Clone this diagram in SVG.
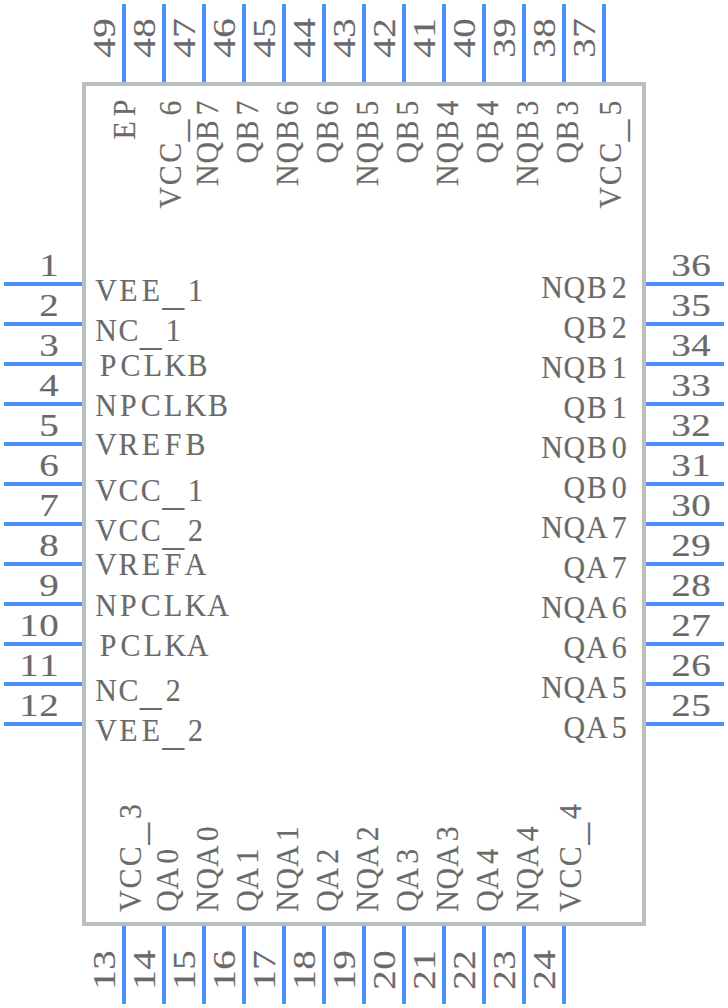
<svg xmlns="http://www.w3.org/2000/svg" width="728" height="1008" viewBox="0 0 728 1008">
<style>
.pin{stroke:#4a90ff;stroke-width:4;fill:none}
text{font-family:"Liberation Serif",serif;font-size:32.5px;fill:#6a6a6a;stroke:#6a6a6a;stroke-width:.15;text-anchor:middle}
.u{font-family:"Liberation Mono",monospace;font-size:40px}
</style>
<rect id="body" x="84" y="84" width="560" height="840" fill="#fff" stroke="#bdbdbd" stroke-width="4"/>
<g id="connectors" class="pin">
<path d="M4 284H82M4 324H82M4 364H82M4 404H82M4 444H82M4 484H82M4 524H82M4 564H82M4 604H82M4 644H82M4 684H82M4 724H82"/>
<path d="M646 284H724M646 324H724M646 364H724M646 404H724M646 444H724M646 484H724M646 524H724M646 564H724M646 604H724M646 644H724M646 684H724M646 724H724"/>
<path d="M124 4V82M164 4V82M204 4V82M244 4V82M284 4V82M324 4V82M364 4V82M404 4V82M444 4V82M484 4V82M524 4V82M564 4V82M604 4V82"/>
<path d="M124 926V1004M164 926V1004M204 926V1004M244 926V1004M284 926V1004M324 926V1004M364 926V1004M404 926V1004M444 926V1004M484 926V1004M524 926V1004M564 926V1004"/>
</g>
<g id="pin-numbers-left">
<text transform="translate(49,276) scale(1.2,1)" x="0">1</text><text transform="translate(49,316) scale(1.2,1)" x="0">2</text><text transform="translate(49,356) scale(1.2,1)" x="0">3</text><text transform="translate(49,396) scale(1.2,1)" x="0">4</text><text transform="translate(49,436) scale(1.2,1)" x="0">5</text><text transform="translate(49,476) scale(1.2,1)" x="0">6</text><text transform="translate(49,516) scale(1.2,1)" x="0">7</text><text transform="translate(49,556) scale(1.2,1)" x="0">8</text><text transform="translate(49,596) scale(1.2,1)" x="0">9</text>
<text transform="translate(29,636) scale(1.2,1)" x="0 16.67">10</text><text transform="translate(29,676) scale(1.2,1)" x="0 16.67">11</text><text transform="translate(29,716) scale(1.2,1)" x="0 16.67">12</text>
</g>
<g id="pin-numbers-right">
<text transform="translate(681,276) scale(1.2,1)" x="0 16.67">36</text><text transform="translate(681,316) scale(1.2,1)" x="0 16.67">35</text><text transform="translate(681,356) scale(1.2,1)" x="0 16.67">34</text><text transform="translate(681,396) scale(1.2,1)" x="0 16.67">33</text><text transform="translate(681,436) scale(1.2,1)" x="0 16.67">32</text><text transform="translate(681,476) scale(1.2,1)" x="0 16.67">31</text><text transform="translate(681,516) scale(1.2,1)" x="0 16.67">30</text><text transform="translate(681,556) scale(1.2,1)" x="0 16.67">29</text><text transform="translate(681,596) scale(1.2,1)" x="0 16.67">28</text><text transform="translate(681,636) scale(1.2,1)" x="0 16.67">27</text><text transform="translate(681,676) scale(1.2,1)" x="0 16.67">26</text><text transform="translate(681,716) scale(1.2,1)" x="0 16.67">25</text>
</g>
<g id="pin-numbers-top">
<text transform="translate(115,48) rotate(-90) scale(1.2,1)" x="0 16.67">49</text><text transform="translate(155,48) rotate(-90) scale(1.2,1)" x="0 16.67">48</text><text transform="translate(195,48) rotate(-90) scale(1.2,1)" x="0 16.67">47</text><text transform="translate(235,48) rotate(-90) scale(1.2,1)" x="0 16.67">46</text><text transform="translate(275,48) rotate(-90) scale(1.2,1)" x="0 16.67">45</text><text transform="translate(315,48) rotate(-90) scale(1.2,1)" x="0 16.67">44</text><text transform="translate(355,48) rotate(-90) scale(1.2,1)" x="0 16.67">43</text><text transform="translate(395,48) rotate(-90) scale(1.2,1)" x="0 16.67">42</text><text transform="translate(435,48) rotate(-90) scale(1.2,1)" x="0 16.67">41</text><text transform="translate(475,48) rotate(-90) scale(1.2,1)" x="0 16.67">40</text><text transform="translate(515,48) rotate(-90) scale(1.2,1)" x="0 16.67">39</text><text transform="translate(555,48) rotate(-90) scale(1.2,1)" x="0 16.67">38</text><text transform="translate(595,48) rotate(-90) scale(1.2,1)" x="0 16.67">37</text>
</g>
<g id="pin-numbers-bottom">
<text transform="translate(115,980) rotate(-90) scale(1.2,1)" x="0 16.67">13</text><text transform="translate(155,980) rotate(-90) scale(1.2,1)" x="0 16.67">14</text><text transform="translate(195,980) rotate(-90) scale(1.2,1)" x="0 16.67">15</text><text transform="translate(235,980) rotate(-90) scale(1.2,1)" x="0 16.67">16</text><text transform="translate(275,980) rotate(-90) scale(1.2,1)" x="0 16.67">17</text><text transform="translate(315,980) rotate(-90) scale(1.2,1)" x="0 16.67">18</text><text transform="translate(355,980) rotate(-90) scale(1.2,1)" x="0 16.67">19</text><text transform="translate(395,980) rotate(-90) scale(1.2,1)" x="0 16.67">20</text><text transform="translate(435,980) rotate(-90) scale(1.2,1)" x="0 16.67">21</text><text transform="translate(475,980) rotate(-90) scale(1.2,1)" x="0 16.67">22</text><text transform="translate(515,980) rotate(-90) scale(1.2,1)" x="0 16.67">23</text><text transform="translate(555,980) rotate(-90) scale(1.2,1)" x="0 16.67">24</text>
</g>
<g id="pin-names-left">
<text transform="translate(106,301) scale(.92,1)" x="0 24.35 48.7 73.04 97.39">VEE<tspan class="u" dy="5">_</tspan><tspan dy="-5">1</tspan></text>
<text transform="translate(106,341) scale(.92,1)" x="0 24.35 48.7 73.04">NC<tspan class="u" dy="5">_</tspan><tspan dy="-5">1</tspan></text>
<text transform="translate(108,376) scale(.92,1)" x="0 24.35 48.7 73.04 97.39">PCLKB</text>
<text transform="translate(106,416) scale(.92,1)" x="0 24.35 48.7 73.04 97.39 121.74">NPCLKB</text>
<text transform="translate(106,455) scale(.92,1)" x="0 24.35 48.7 73.04 97.39">VREFB</text>
<text transform="translate(106,501) scale(.92,1)" x="0 24.35 48.7 73.04 97.39">VCC<tspan class="u" dy="5">_</tspan><tspan dy="-5">1</tspan></text>
<text transform="translate(106,541) scale(.92,1)" x="0 24.35 48.7 73.04 97.39">VCC<tspan class="u" dy="5">_</tspan><tspan dy="-5">2</tspan></text>
<text transform="translate(106,575) scale(.92,1)" x="0 24.35 48.7 73.04 97.39">VREFA</text>
<text transform="translate(106,616) scale(.92,1)" x="0 24.35 48.7 73.04 97.39 121.74">NPCLKA</text>
<text transform="translate(108,656) scale(.92,1)" x="0 24.35 48.7 73.04 97.39">PCLKA</text>
<text transform="translate(106,701) scale(.92,1)" x="0 24.35 48.7 73.04">NC<tspan class="u" dy="5">_</tspan><tspan dy="-5">2</tspan></text>
<text transform="translate(106,741) scale(.92,1)" x="0 24.35 48.7 73.04 97.39">VEE<tspan class="u" dy="5">_</tspan><tspan dy="-5">2</tspan></text>
</g>
<g id="pin-names-right">
<text transform="translate(552,298) scale(.92,1)" x="0 24.35 48.7 73.04">NQB2</text>
<text transform="translate(574.4,338) scale(.92,1)" x="0 24.35 48.7">QB2</text>
<text transform="translate(552,378) scale(.92,1)" x="0 24.35 48.7 73.04">NQB1</text>
<text transform="translate(574.4,418) scale(.92,1)" x="0 24.35 48.7">QB1</text>
<text transform="translate(552,458) scale(.92,1)" x="0 24.35 48.7 73.04">NQB0</text>
<text transform="translate(574.4,498) scale(.92,1)" x="0 24.35 48.7">QB0</text>
<text transform="translate(552,538) scale(.92,1)" x="0 24.35 48.7 73.04">NQA7</text>
<text transform="translate(574.4,578) scale(.92,1)" x="0 24.35 48.7">QA7</text>
<text transform="translate(552,618) scale(.92,1)" x="0 24.35 48.7 73.04">NQA6</text>
<text transform="translate(574.4,658) scale(.92,1)" x="0 24.35 48.7">QA6</text>
<text transform="translate(552,698) scale(.92,1)" x="0 24.35 48.7 73.04">NQA5</text>
<text transform="translate(574.4,738) scale(.92,1)" x="0 24.35 48.7">QA5</text>
</g>
<g id="pin-names-top">
<text transform="translate(135,130.4) rotate(-90) scale(.92,1)" x="0 24.35">EP</text>
<text transform="translate(180.5,197.6) rotate(-90) scale(.92,1)" x="0 24.35 48.7 73.04 97.39">VCC<tspan class="u" dy="5">_</tspan><tspan dy="-5">6</tspan></text>
<text transform="translate(218,175.2) rotate(-90) scale(.92,1)" x="0 24.35 48.7 73.04">NQB7</text>
<text transform="translate(258,152.8) rotate(-90) scale(.92,1)" x="0 24.35 48.7">QB7</text>
<text transform="translate(298,175.2) rotate(-90) scale(.92,1)" x="0 24.35 48.7 73.04">NQB6</text>
<text transform="translate(338,152.8) rotate(-90) scale(.92,1)" x="0 24.35 48.7">QB6</text>
<text transform="translate(378,175.2) rotate(-90) scale(.92,1)" x="0 24.35 48.7 73.04">NQB5</text>
<text transform="translate(418,152.8) rotate(-90) scale(.92,1)" x="0 24.35 48.7">QB5</text>
<text transform="translate(458,175.2) rotate(-90) scale(.92,1)" x="0 24.35 48.7 73.04">NQB4</text>
<text transform="translate(498,152.8) rotate(-90) scale(.92,1)" x="0 24.35 48.7">QB4</text>
<text transform="translate(538,175.2) rotate(-90) scale(.92,1)" x="0 24.35 48.7 73.04">NQB3</text>
<text transform="translate(578,152.8) rotate(-90) scale(.92,1)" x="0 24.35 48.7">QB3</text>
<text transform="translate(620.5,197.6) rotate(-90) scale(.92,1)" x="0 24.35 48.7 73.04 97.39">VCC<tspan class="u" dy="5">_</tspan><tspan dy="-5">5</tspan></text>
</g>
<g id="pin-names-bottom">
<text transform="translate(140.5,901) rotate(-90) scale(.92,1)" x="0 24.35 48.7 73.04 97.39">VCC<tspan class="u" dy="5">_</tspan><tspan dy="-5">3</tspan></text>
<text transform="translate(178,901) rotate(-90) scale(.92,1)" x="0 24.35 48.7">QA0</text>
<text transform="translate(218,901) rotate(-90) scale(.92,1)" x="0 24.35 48.7 73.04">NQA0</text>
<text transform="translate(258,901) rotate(-90) scale(.92,1)" x="0 24.35 48.7">QA1</text>
<text transform="translate(298,901) rotate(-90) scale(.92,1)" x="0 24.35 48.7 73.04">NQA1</text>
<text transform="translate(338,901) rotate(-90) scale(.92,1)" x="0 24.35 48.7">QA2</text>
<text transform="translate(378,901) rotate(-90) scale(.92,1)" x="0 24.35 48.7 73.04">NQA2</text>
<text transform="translate(418,901) rotate(-90) scale(.92,1)" x="0 24.35 48.7">QA3</text>
<text transform="translate(458,901) rotate(-90) scale(.92,1)" x="0 24.35 48.7 73.04">NQA3</text>
<text transform="translate(498,901) rotate(-90) scale(.92,1)" x="0 24.35 48.7">QA4</text>
<text transform="translate(538,901) rotate(-90) scale(.92,1)" x="0 24.35 48.7 73.04">NQA4</text>
<text transform="translate(580.5,901) rotate(-90) scale(.92,1)" x="0 24.35 48.7 73.04 97.39">VCC<tspan class="u" dy="5">_</tspan><tspan dy="-5">4</tspan></text>
</g>
</svg>
